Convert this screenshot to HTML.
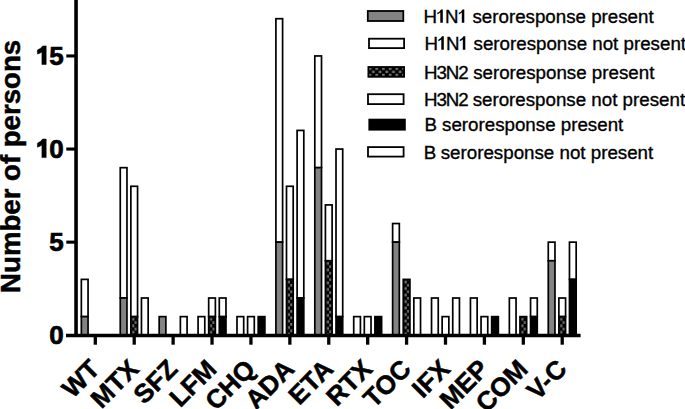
<!DOCTYPE html>
<html><head><meta charset="utf-8"><style>
html,body{margin:0;padding:0;background:#fff;}
body{width:685px;height:409px;overflow:hidden;}
svg{display:block;}
.b{font-family:"Liberation Sans",sans-serif;font-weight:bold;fill:#000;stroke:#000;stroke-width:0.5px;}
.xl{stroke:#000;stroke-width:0.5px;}
.tl{stroke-width:0.7px;}
.r{font-family:"Liberation Sans",sans-serif;font-weight:normal;fill:#000;stroke:#000;stroke-width:0.35px;}
</style></head><body>
<svg width="685" height="409" viewBox="0 0 685 409">
<defs>
<pattern id="chk" patternUnits="userSpaceOnUse" x="368.7" y="67.65" width="6.7" height="6.1">
<rect width="6.7" height="6.1" fill="#000"/>
<rect x="0" y="0" width="2.6" height="2.3" fill="#777"/>
<rect x="3.35" y="3.05" width="2.6" height="2.3" fill="#777"/>
</pattern>
<pattern id="chk1" patternUnits="userSpaceOnUse" x="131.71" y="317.48" width="5.4" height="6.5"><rect width="5.4" height="6.5" fill="#000"/><rect x="0.4" y="0.4" width="2.3" height="2.8" fill="#6e6e6e"/><rect x="2.9" y="3.65" width="2.3" height="2.8" fill="#6e6e6e"/></pattern>
<pattern id="chk3" patternUnits="userSpaceOnUse" x="209.53" y="317.48" width="5.4" height="6.5"><rect width="5.4" height="6.5" fill="#000"/><rect x="0.4" y="0.4" width="2.3" height="2.8" fill="#6e6e6e"/><rect x="2.9" y="3.65" width="2.3" height="2.8" fill="#6e6e6e"/></pattern>
<pattern id="chk5" patternUnits="userSpaceOnUse" x="287.35" y="280.24" width="5.4" height="6.5"><rect width="5.4" height="6.5" fill="#000"/><rect x="0.4" y="0.4" width="2.3" height="2.8" fill="#6e6e6e"/><rect x="2.9" y="3.65" width="2.3" height="2.8" fill="#6e6e6e"/></pattern>
<pattern id="chk6" patternUnits="userSpaceOnUse" x="326.26" y="261.62" width="5.4" height="6.5"><rect width="5.4" height="6.5" fill="#000"/><rect x="0.4" y="0.4" width="2.3" height="2.8" fill="#6e6e6e"/><rect x="2.9" y="3.65" width="2.3" height="2.8" fill="#6e6e6e"/></pattern>
<pattern id="chk8" patternUnits="userSpaceOnUse" x="404.08" y="280.24" width="5.4" height="6.5"><rect width="5.4" height="6.5" fill="#000"/><rect x="0.4" y="0.4" width="2.3" height="2.8" fill="#6e6e6e"/><rect x="2.9" y="3.65" width="2.3" height="2.8" fill="#6e6e6e"/></pattern>
<pattern id="chk11" patternUnits="userSpaceOnUse" x="520.81" y="317.48" width="5.4" height="6.5"><rect width="5.4" height="6.5" fill="#000"/><rect x="0.4" y="0.4" width="2.3" height="2.8" fill="#6e6e6e"/><rect x="2.9" y="3.65" width="2.3" height="2.8" fill="#6e6e6e"/></pattern>
<pattern id="chk12" patternUnits="userSpaceOnUse" x="559.72" y="317.48" width="5.4" height="6.5"><rect width="5.4" height="6.5" fill="#000"/><rect x="0.4" y="0.4" width="2.3" height="2.8" fill="#6e6e6e"/><rect x="2.9" y="3.65" width="2.3" height="2.8" fill="#6e6e6e"/></pattern>
</defs>
<rect width="685" height="409" fill="#fff"/>
<rect x="81.35" y="279.39" width="6.70" height="37.24" fill="#fff" stroke="#000" stroke-width="1.7"/>
<rect x="81.35" y="316.63" width="6.70" height="18.62" fill="#838383" stroke="#000" stroke-width="1.7"/>
<rect x="120.26" y="167.67" width="6.70" height="130.34" fill="#fff" stroke="#000" stroke-width="1.7"/>
<rect x="120.26" y="298.01" width="6.70" height="37.24" fill="#838383" stroke="#000" stroke-width="1.7"/>
<rect x="130.86" y="186.29" width="6.70" height="130.34" fill="#fff" stroke="#000" stroke-width="1.7"/>
<rect x="130.86" y="316.63" width="6.70" height="18.62" fill="url(#chk1)" stroke="#000" stroke-width="1.7"/>
<rect x="141.46" y="298.01" width="6.70" height="37.24" fill="#fff" stroke="#000" stroke-width="1.7"/>
<rect x="159.17" y="316.63" width="6.70" height="18.62" fill="#838383" stroke="#000" stroke-width="1.7"/>
<rect x="180.37" y="316.63" width="6.70" height="18.62" fill="#fff" stroke="#000" stroke-width="1.7"/>
<rect x="198.08" y="316.63" width="6.70" height="18.62" fill="#fff" stroke="#000" stroke-width="1.7"/>
<rect x="208.68" y="298.01" width="6.70" height="18.62" fill="#fff" stroke="#000" stroke-width="1.7"/>
<rect x="208.68" y="316.63" width="6.70" height="18.62" fill="url(#chk3)" stroke="#000" stroke-width="1.7"/>
<rect x="219.28" y="298.01" width="6.70" height="18.62" fill="#fff" stroke="#000" stroke-width="1.7"/>
<rect x="219.28" y="316.63" width="6.70" height="18.62" fill="#000" stroke="#000" stroke-width="1.7"/>
<rect x="236.99" y="316.63" width="6.70" height="18.62" fill="#fff" stroke="#000" stroke-width="1.7"/>
<rect x="247.59" y="316.63" width="6.70" height="18.62" fill="#fff" stroke="#000" stroke-width="1.7"/>
<rect x="258.19" y="316.63" width="6.70" height="18.62" fill="#000" stroke="#000" stroke-width="1.7"/>
<rect x="275.90" y="18.71" width="6.70" height="223.44" fill="#fff" stroke="#000" stroke-width="1.7"/>
<rect x="275.90" y="242.15" width="6.70" height="93.10" fill="#838383" stroke="#000" stroke-width="1.7"/>
<rect x="286.50" y="186.29" width="6.70" height="93.10" fill="#fff" stroke="#000" stroke-width="1.7"/>
<rect x="286.50" y="279.39" width="6.70" height="55.86" fill="url(#chk5)" stroke="#000" stroke-width="1.7"/>
<rect x="297.10" y="130.43" width="6.70" height="167.58" fill="#fff" stroke="#000" stroke-width="1.7"/>
<rect x="297.10" y="298.01" width="6.70" height="37.24" fill="#000" stroke="#000" stroke-width="1.7"/>
<rect x="314.81" y="55.95" width="6.70" height="111.72" fill="#fff" stroke="#000" stroke-width="1.7"/>
<rect x="314.81" y="167.67" width="6.70" height="167.58" fill="#838383" stroke="#000" stroke-width="1.7"/>
<rect x="325.41" y="204.91" width="6.70" height="55.86" fill="#fff" stroke="#000" stroke-width="1.7"/>
<rect x="325.41" y="260.77" width="6.70" height="74.48" fill="url(#chk6)" stroke="#000" stroke-width="1.7"/>
<rect x="336.01" y="149.05" width="6.70" height="167.58" fill="#fff" stroke="#000" stroke-width="1.7"/>
<rect x="336.01" y="316.63" width="6.70" height="18.62" fill="#000" stroke="#000" stroke-width="1.7"/>
<rect x="353.72" y="316.63" width="6.70" height="18.62" fill="#fff" stroke="#000" stroke-width="1.7"/>
<rect x="364.32" y="316.63" width="6.70" height="18.62" fill="#fff" stroke="#000" stroke-width="1.7"/>
<rect x="374.92" y="316.63" width="6.70" height="18.62" fill="#000" stroke="#000" stroke-width="1.7"/>
<rect x="392.63" y="223.53" width="6.70" height="18.62" fill="#fff" stroke="#000" stroke-width="1.7"/>
<rect x="392.63" y="242.15" width="6.70" height="93.10" fill="#838383" stroke="#000" stroke-width="1.7"/>
<rect x="403.23" y="279.39" width="6.70" height="55.86" fill="url(#chk8)" stroke="#000" stroke-width="1.7"/>
<rect x="413.83" y="298.01" width="6.70" height="37.24" fill="#fff" stroke="#000" stroke-width="1.7"/>
<rect x="431.54" y="298.01" width="6.70" height="37.24" fill="#fff" stroke="#000" stroke-width="1.7"/>
<rect x="442.14" y="316.63" width="6.70" height="18.62" fill="#fff" stroke="#000" stroke-width="1.7"/>
<rect x="452.74" y="298.01" width="6.70" height="37.24" fill="#fff" stroke="#000" stroke-width="1.7"/>
<rect x="470.45" y="298.01" width="6.70" height="37.24" fill="#fff" stroke="#000" stroke-width="1.7"/>
<rect x="481.05" y="316.63" width="6.70" height="18.62" fill="#fff" stroke="#000" stroke-width="1.7"/>
<rect x="491.65" y="316.63" width="6.70" height="18.62" fill="#000" stroke="#000" stroke-width="1.7"/>
<rect x="509.36" y="298.01" width="6.70" height="37.24" fill="#fff" stroke="#000" stroke-width="1.7"/>
<rect x="519.96" y="316.63" width="6.70" height="18.62" fill="url(#chk11)" stroke="#000" stroke-width="1.7"/>
<rect x="530.56" y="298.01" width="6.70" height="18.62" fill="#fff" stroke="#000" stroke-width="1.7"/>
<rect x="530.56" y="316.63" width="6.70" height="18.62" fill="#000" stroke="#000" stroke-width="1.7"/>
<rect x="548.27" y="242.15" width="6.70" height="18.62" fill="#fff" stroke="#000" stroke-width="1.7"/>
<rect x="548.27" y="260.77" width="6.70" height="74.48" fill="#838383" stroke="#000" stroke-width="1.7"/>
<rect x="558.87" y="298.01" width="6.70" height="18.62" fill="#fff" stroke="#000" stroke-width="1.7"/>
<rect x="558.87" y="316.63" width="6.70" height="18.62" fill="url(#chk12)" stroke="#000" stroke-width="1.7"/>
<rect x="569.47" y="242.15" width="6.70" height="37.24" fill="#fff" stroke="#000" stroke-width="1.7"/>
<rect x="569.47" y="279.39" width="6.70" height="55.86" fill="#000" stroke="#000" stroke-width="1.7"/>
<line x1="76.05" y1="0" x2="76.05" y2="336.95" stroke="#000" stroke-width="3.6"/>
<line x1="66" y1="335.45" x2="580.6" y2="335.45" stroke="#000" stroke-width="3.4"/>
<line x1="66.3" y1="242.15" x2="76" y2="242.15" stroke="#000" stroke-width="3.1"/>
<line x1="66.3" y1="149.05" x2="76" y2="149.05" stroke="#000" stroke-width="3.1"/>
<line x1="66.3" y1="55.95" x2="76" y2="55.95" stroke="#000" stroke-width="3.1"/>
<line x1="95.30" y1="335.25" x2="95.30" y2="344.7" stroke="#000" stroke-width="3.3"/>
<line x1="134.21" y1="335.25" x2="134.21" y2="344.7" stroke="#000" stroke-width="3.3"/>
<line x1="173.12" y1="335.25" x2="173.12" y2="344.7" stroke="#000" stroke-width="3.3"/>
<line x1="212.03" y1="335.25" x2="212.03" y2="344.7" stroke="#000" stroke-width="3.3"/>
<line x1="250.94" y1="335.25" x2="250.94" y2="344.7" stroke="#000" stroke-width="3.3"/>
<line x1="289.85" y1="335.25" x2="289.85" y2="344.7" stroke="#000" stroke-width="3.3"/>
<line x1="328.76" y1="335.25" x2="328.76" y2="344.7" stroke="#000" stroke-width="3.3"/>
<line x1="367.67" y1="335.25" x2="367.67" y2="344.7" stroke="#000" stroke-width="3.3"/>
<line x1="406.58" y1="335.25" x2="406.58" y2="344.7" stroke="#000" stroke-width="3.3"/>
<line x1="445.49" y1="335.25" x2="445.49" y2="344.7" stroke="#000" stroke-width="3.3"/>
<line x1="484.40" y1="335.25" x2="484.40" y2="344.7" stroke="#000" stroke-width="3.3"/>
<line x1="523.31" y1="335.25" x2="523.31" y2="344.7" stroke="#000" stroke-width="3.3"/>
<line x1="562.22" y1="335.25" x2="562.22" y2="344.7" stroke="#000" stroke-width="3.3"/>
<text x="63.6" y="344.05" text-anchor="end" class="b tl" font-size="26">0</text>
<text x="63.6" y="250.95" text-anchor="end" class="b tl" font-size="26">5</text>
<text x="63.6" y="157.85" text-anchor="end" class="b tl" font-size="26">0</text>
<path transform="translate(0,0.00)" d="M46.2,139 L42.6,139 Q41.2,141.6 37.4,143.2 L37.4,147.2 Q40.2,146.4 41.9,145 L41.9,157.6 L46.2,157.6 Z" fill="#000" stroke="#000" stroke-width="0.5"/>
<text x="63.6" y="64.75" text-anchor="end" class="b tl" font-size="26">5</text>
<path transform="translate(0,-93.10)" d="M46.2,139 L42.6,139 Q41.2,141.6 37.4,143.2 L37.4,147.2 Q40.2,146.4 41.9,145 L41.9,157.6 L46.2,157.6 Z" fill="#000" stroke="#000" stroke-width="0.5"/>
<text transform="translate(20.2,166.4) rotate(-90)" x="0" y="0" text-anchor="middle" class="b" font-size="27.6">Number of persons</text>
<text transform="translate(87.70,357) rotate(-45)" x="0" y="0" text-anchor="end" class="b xl" font-size="26" dominant-baseline="hanging">WT</text>
<text transform="translate(126.61,357) rotate(-45)" x="0" y="0" text-anchor="end" class="b xl" font-size="26" dominant-baseline="hanging">MTX</text>
<text transform="translate(165.52,357) rotate(-45)" x="0" y="0" text-anchor="end" class="b xl" font-size="26" dominant-baseline="hanging">SFZ</text>
<text transform="translate(204.43,357) rotate(-45)" x="0" y="0" text-anchor="end" class="b xl" font-size="26" dominant-baseline="hanging">LFM</text>
<text transform="translate(243.34,357) rotate(-45)" x="0" y="0" text-anchor="end" class="b xl" font-size="26" dominant-baseline="hanging">CHQ</text>
<text transform="translate(282.25,357) rotate(-45)" x="0" y="0" text-anchor="end" class="b xl" font-size="26" dominant-baseline="hanging">ADA</text>
<text transform="translate(321.16,357) rotate(-45)" x="0" y="0" text-anchor="end" class="b xl" font-size="26" dominant-baseline="hanging">ETA</text>
<text transform="translate(360.07,357) rotate(-45)" x="0" y="0" text-anchor="end" class="b xl" font-size="26" dominant-baseline="hanging">RTX</text>
<text transform="translate(398.98,357) rotate(-45)" x="0" y="0" text-anchor="end" class="b xl" font-size="26" dominant-baseline="hanging">TOC</text>
<text transform="translate(437.89,357) rotate(-45)" x="0" y="0" text-anchor="end" class="b xl" font-size="26" dominant-baseline="hanging">IFX</text>
<text transform="translate(476.80,357) rotate(-45)" x="0" y="0" text-anchor="end" class="b xl" font-size="26" dominant-baseline="hanging">MEP</text>
<text transform="translate(515.71,357) rotate(-45)" x="0" y="0" text-anchor="end" class="b xl" font-size="26" dominant-baseline="hanging">COM</text>
<text transform="translate(554.62,357) rotate(-45)" x="0" y="0" text-anchor="end" class="b xl" font-size="26" dominant-baseline="hanging">V-C</text>
<rect x="367.80" y="11.00" width="35.50" height="10.00" fill="#838383" stroke="#000" stroke-width="1.8"/>
<text transform="translate(423.47,22.8) scale(0.987,1)" class="r" font-size="19.0">H</text>
<text transform="translate(445.11,22.8) scale(0.987,1)" class="r" font-size="19.0">N</text>
<path d="M442.80,9.40 L441.00,9.40 Q439.90,11.70 437.30,12.80 L437.30,14.40 Q439.00,13.80 440.30,12.60 L440.30,22.80 L442.80,22.80 Z" fill="#000"/>
<path d="M464.30,9.40 L462.50,9.40 Q461.40,11.70 458.80,12.80 L458.80,14.40 Q460.50,13.80 461.80,12.60 L461.80,22.80 L464.30,22.80 Z" fill="#000"/>
<text transform="translate(472.44,22.8) scale(0.987,1)" class="r" font-size="19.0">seroresponse present</text>
<rect x="369.00" y="38.70" width="35.10" height="9.40" fill="#fff" stroke="#000" stroke-width="1.8"/>
<text transform="translate(424.47,49.7) scale(0.987,1)" class="r" font-size="19.0">H</text>
<text transform="translate(446.11,49.7) scale(0.987,1)" class="r" font-size="19.0">N</text>
<path d="M443.80,36.30 L442.00,36.30 Q440.90,38.60 438.30,39.70 L438.30,41.30 Q440.00,40.70 441.30,39.50 L441.30,49.70 L443.80,49.70 Z" fill="#000"/>
<path d="M465.30,36.30 L463.50,36.30 Q462.40,38.60 459.80,39.70 L459.80,41.30 Q461.50,40.70 462.80,39.50 L462.80,49.70 L465.30,49.70 Z" fill="#000"/>
<text transform="translate(473.54,49.7) scale(0.987,1)" class="r" font-size="19.0">seroresponse not present</text>
<rect x="368.40" y="67.00" width="35.70" height="9.80" fill="url(#chk)" stroke="#000" stroke-width="1.8"/>
<text transform="translate(424.07,78.6) scale(0.987,1)" class="r" font-size="19.0" letter-spacing="-1.1">H3N2</text>
<text transform="translate(473.14,78.6) scale(0.987,1)" class="r" font-size="19.0">seroresponse present</text>
<rect x="368.00" y="94.20" width="35.60" height="9.90" fill="#fff" stroke="#000" stroke-width="1.8"/>
<text transform="translate(424.07,105.7) scale(0.987,1)" class="r" font-size="19.0" letter-spacing="-1.1">H3N2</text>
<text transform="translate(472.64,105.7) scale(0.987,1)" class="r" font-size="19.0">seroresponse not present</text>
<rect x="369.30" y="119.60" width="35.60" height="10.10" fill="#000" stroke="#000" stroke-width="1.8"/>
<text transform="translate(424.47,131.3) scale(0.987,1)" class="r" font-size="19.0" letter-spacing="0">B</text>
<text transform="translate(442.04,131.3) scale(0.987,1)" class="r" font-size="19.0">seroresponse present</text>
<rect x="368.00" y="147.10" width="35.60" height="9.50" fill="#fff" stroke="#000" stroke-width="1.8"/>
<text transform="translate(423.67,158.6) scale(0.987,1)" class="r" font-size="19.0" letter-spacing="0">B</text>
<text transform="translate(440.74,158.6) scale(0.987,1)" class="r" font-size="19.0">seroresponse not present</text>
</svg>
</body></html>
